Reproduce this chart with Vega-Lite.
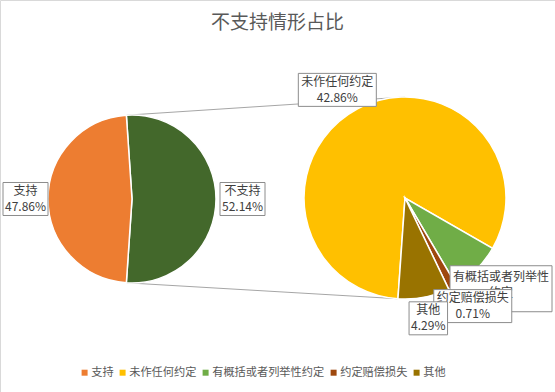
{
  "$schema": "https://vega.github.io/schema/vega-lite/v6.json",
  "width": 555,
  "height": 392,
  "autosize": {"type": "none"},
  "padding": 0,
  "background": "white",
  "config": {
    "font": "Noto Sans CJK SC",
    "view": {"stroke": "#d9d9d9", "strokeWidth": 1}
  },
  "title": {
    "text": "不支持情形占比",
    "fontSize": 19,
    "fontWeight": "normal",
    "font": "Noto Sans CJK SC",
    "color": "#595959",
    "anchor": "middle",
    "offset": 0,
    "baseline": "alphabetic",
    "dy": 48
  },
  "data": {
    "values": [
      {"group": "总体", "cat": "不支持", "value": 52.14},
      {"group": "总体", "cat": "支持", "value": 47.86},
      {"group": "不支持情形", "cat": "未作任何约定", "value": 42.86},
      {"group": "不支持情形", "cat": "有概括或者列举性约定", "value": 4.28},
      {"group": "不支持情形", "cat": "约定赔偿损失", "value": 0.71},
      {"group": "不支持情形", "cat": "其他", "value": 4.29}
    ]
  },
  "transform": [
    {"joinaggregate": [{"op": "sum", "field": "value", "as": "total"}], "groupby": ["group"]},
    {"window": [{"op": "sum", "field": "value", "as": "cum1"}], "groupby": ["group"], "frame": [null, 0]},
    {"calculate": "datum.cum1 - datum.value", "as": "cum0"},
    {"calculate": "datum.group === '总体'", "as": "main"},
    {"calculate": "datum.main ? 132 : 405", "as": "cx"},
    {"calculate": "datum.main ? 199 : 198", "as": "cy"},
    {"calculate": "datum.main ? 84 : 101", "as": "r"},
    {"calculate": "datum.main ? -0.0672 : 3.2114", "as": "start"},
    {"calculate": "datum.start + 2 * PI * datum.cum0 / datum.total", "as": "a0"},
    {"calculate": "datum.start + 2 * PI * datum.cum1 / datum.total", "as": "a1"},
    {"calculate": "(datum.a0 + datum.a1) / 2", "as": "am"},
    {"calculate": "format(datum.value, '.2f') + '%'", "as": "pct"},
    {"calculate": "length(datum.cat) > 8", "as": "wrap"},
    {"calculate": "datum.wrap ? substring(datum.cat, 0, 8) + '\\n' + substring(datum.cat, 8) : datum.cat + '\\n' + datum.pct", "as": "lbl"},
    {"calculate": "max(min(length(datum.cat), 8) * 12, length(datum.pct) * 6.5) + 6", "as": "bw"},
    {"calculate": "(datum.wrap ? 3 : 2) * 13 + 7", "as": "bh"},
    {"calculate": "datum.cx + (datum.r + 4 + datum.bw / 2) * sin(datum.am)", "as": "lx0"},
    {"calculate": "clamp(datum.lx0, 3 + datum.bw / 2, 552 - datum.bw / 2)", "as": "lx"},
    {"calculate": "datum.cy - (datum.r + 5 + datum.bh / 2) * cos(datum.am)", "as": "ly"},
    {"calculate": "datum.wrap ? datum.ly - 12 : datum.ly - 8", "as": "ty"},
    {"calculate": "datum.lx - datum.bw / 2", "as": "bx0"},
    {"calculate": "datum.lx + datum.bw / 2", "as": "bx1"},
    {"calculate": "datum.ly - datum.bh / 2", "as": "by0"},
    {"calculate": "datum.ly + datum.bh / 2", "as": "by1"},
    {"calculate": "datum.cx + datum.r * sin(datum.a0)", "as": "p0x"},
    {"calculate": "datum.cy - datum.r * cos(datum.a0)", "as": "p0y"},
    {"calculate": "datum.cx + datum.r * sin(datum.a1)", "as": "p1x"},
    {"calculate": "datum.cy - datum.r * cos(datum.a1)", "as": "p1y"},
    {"calculate": "405", "as": "qtx"},
    {"calculate": "198 - 101", "as": "qty"},
    {"calculate": "405 + 101 * sin(3.2114)", "as": "qbx"},
    {"calculate": "198 - 101 * cos(3.2114)", "as": "qby"}
  ],
  "layer": [
    {
      "transform": [{"filter": "datum.cat === '不支持'"}],
      "mark": {"type": "rule", "stroke": "#a6a6a6", "strokeWidth": 1},
      "encoding": {
        "x": {"field": "p0x", "type": "quantitative", "scale": {"domain": [0, 555], "nice": false, "zero": false}, "axis": null},
        "y": {"field": "p0y", "type": "quantitative", "scale": {"domain": [0, 392], "nice": false, "zero": false, "reverse": true}, "axis": null},
        "x2": {"field": "qtx"},
        "y2": {"field": "qty"}
      }
    },
    {
      "transform": [{"filter": "datum.cat === '不支持'"}],
      "mark": {"type": "rule", "stroke": "#a6a6a6", "strokeWidth": 1},
      "encoding": {
        "x": {"field": "p1x", "type": "quantitative", "scale": {"domain": [0, 555], "nice": false, "zero": false}, "axis": null},
        "y": {"field": "p1y", "type": "quantitative", "scale": {"domain": [0, 392], "nice": false, "zero": false, "reverse": true}, "axis": null},
        "x2": {"field": "qbx"},
        "y2": {"field": "qby"}
      }
    },
    {
      "mark": {"type": "arc", "stroke": "#ffffff", "strokeWidth": 1.5},
      "encoding": {
        "x": {"field": "cx", "type": "quantitative", "scale": {"domain": [0, 555], "nice": false, "zero": false}, "axis": null},
        "y": {"field": "cy", "type": "quantitative", "scale": {"domain": [0, 392], "nice": false, "zero": false, "reverse": true}, "axis": null},
        "theta": {"field": "a0", "type": "quantitative", "scale": null, "stack": null},
        "theta2": {"field": "a1"},
        "radius": {"field": "r", "type": "quantitative", "scale": null},
        "color": {
          "field": "cat",
          "type": "nominal",
          "scale": {
            "domain": ["支持", "不支持", "未作任何约定", "有概括或者列举性约定", "约定赔偿损失", "其他"],
            "range": ["#ED7D31", "#43682B", "#FFC000", "#70AD47", "#9E480E", "#997300"]
          },
          "legend": {
            "values": ["支持", "未作任何约定", "有概括或者列举性约定", "约定赔偿损失", "其他"],
            "orient": "none",
            "legendX": 79,
            "legendY": 367,
            "direction": "horizontal",
            "title": null,
            "symbolType": "square",
            "symbolSize": 36,
            "symbolStrokeWidth": 0,
            "labelFontSize": 11.2,
            "labelColor": "#595959",
            "labelFont": "Noto Sans CJK SC",
            "labelOffset": 1,
            "columnPadding": 3,
            "padding": 0
          }
        }
      }
    },
    {
      "transform": [{"filter": "indexof(['约定赔偿损失', '其他'], datum.cat) < 0"}],
      "mark": {"type": "rect", "fill": "#ffffff", "stroke": "#8c8c8c", "strokeWidth": 1},
      "encoding": {
        "x": {"field": "bx0", "type": "quantitative", "scale": {"domain": [0, 555], "nice": false, "zero": false}, "axis": null},
        "x2": {"field": "bx1"},
        "y": {"field": "by0", "type": "quantitative", "scale": {"domain": [0, 392], "nice": false, "zero": false, "reverse": true}, "axis": null},
        "y2": {"field": "by1"}
      }
    },
    {
      "transform": [{"filter": "indexof(['约定赔偿损失', '其他'], datum.cat) < 0"}],
      "mark": {"type": "text", "fontSize": 12, "color": "#404040", "lineBreak": "\n", "lineHeight": 16, "align": "center", "baseline": "middle"},
      "encoding": {
        "x": {"field": "lx", "type": "quantitative", "scale": {"domain": [0, 555], "nice": false, "zero": false}, "axis": null},
        "y": {"field": "ty", "type": "quantitative", "scale": {"domain": [0, 392], "nice": false, "zero": false, "reverse": true}, "axis": null},
        "text": {"field": "lbl"}
      }
    },
    {
      "transform": [{"filter": "datum.cat === '约定赔偿损失'"}],
      "mark": {"type": "rect", "fill": "#ffffff", "stroke": "#8c8c8c", "strokeWidth": 1},
      "encoding": {
        "x": {"field": "bx0", "type": "quantitative", "scale": {"domain": [0, 555], "nice": false, "zero": false}, "axis": null},
        "x2": {"field": "bx1"},
        "y": {"field": "by0", "type": "quantitative", "scale": {"domain": [0, 392], "nice": false, "zero": false, "reverse": true}, "axis": null},
        "y2": {"field": "by1"}
      }
    },
    {
      "transform": [{"filter": "datum.cat === '约定赔偿损失'"}],
      "mark": {"type": "text", "fontSize": 12, "color": "#404040", "lineBreak": "\n", "lineHeight": 16, "align": "center", "baseline": "middle"},
      "encoding": {
        "x": {"field": "lx", "type": "quantitative", "scale": {"domain": [0, 555], "nice": false, "zero": false}, "axis": null},
        "y": {"field": "ty", "type": "quantitative", "scale": {"domain": [0, 392], "nice": false, "zero": false, "reverse": true}, "axis": null},
        "text": {"field": "lbl"}
      }
    },
    {
      "transform": [{"filter": "datum.cat === '其他'"}],
      "mark": {"type": "rect", "fill": "#ffffff", "stroke": "#8c8c8c", "strokeWidth": 1},
      "encoding": {
        "x": {"field": "bx0", "type": "quantitative", "scale": {"domain": [0, 555], "nice": false, "zero": false}, "axis": null},
        "x2": {"field": "bx1"},
        "y": {"field": "by0", "type": "quantitative", "scale": {"domain": [0, 392], "nice": false, "zero": false, "reverse": true}, "axis": null},
        "y2": {"field": "by1"}
      }
    },
    {
      "transform": [{"filter": "datum.cat === '其他'"}],
      "mark": {"type": "text", "fontSize": 12, "color": "#404040", "lineBreak": "\n", "lineHeight": 16, "align": "center", "baseline": "middle"},
      "encoding": {
        "x": {"field": "lx", "type": "quantitative", "scale": {"domain": [0, 555], "nice": false, "zero": false}, "axis": null},
        "y": {"field": "ty", "type": "quantitative", "scale": {"domain": [0, 392], "nice": false, "zero": false, "reverse": true}, "axis": null},
        "text": {"field": "lbl"}
      }
    }
  ]
}
